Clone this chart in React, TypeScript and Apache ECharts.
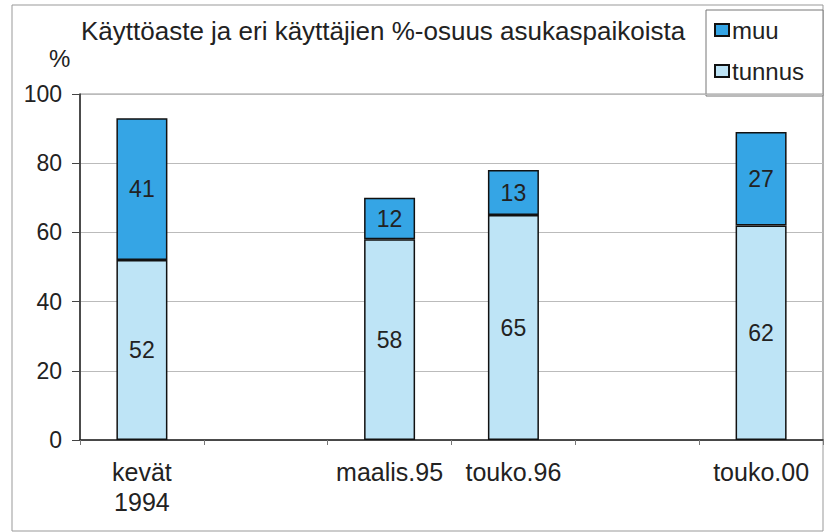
import React, { useEffect, useRef } from "react";
import * as echarts from "echarts";

const categories = ["kevät\n1994", "", "maalis.95", "touko.96", "", "touko.00"];
const tunnusValues = [52, null, 58, 65, null, 62];
const muuValues = [41, null, 12, 13, null, 27];
const yTicks = [0, 20, 40, 60, 80, 100];

const FONT = "'Liberation Sans', Arial, Helvetica, sans-serif";

export default function App() {
  const ref = useRef<HTMLDivElement>(null);
  useEffect(() => {
    if (!ref.current) return;
    const chart = echarts.init(ref.current, undefined, { renderer: "svg" });
    const labelStyle = {
      show: true,
      position: "inside",
      color: "#222",
      fontSize: 23,
      fontFamily: FONT,
      formatter: (p: any) => (p.value == null ? "" : String(p.value)),
    };
    chart.setOption({
      animation: false,
      backgroundColor: "#fff",
      textStyle: { fontFamily: FONT },
      title: {
        text: "Käyttöaste ja eri käyttäjien %-osuus asukaspaikoista",
        left: 76,
        top: 13,
        textStyle: { fontSize: 26, fontWeight: "normal", color: "#222", fontFamily: FONT },
      },
      legend: {
        orient: "vertical",
        left: 714,
        top: 18,
        icon: "rect",
        itemWidth: 14,
        itemHeight: 12,
        itemGap: 17,
        padding: 0,
        data: ["muu", "tunnus"],
        textStyle: { fontSize: 24, color: "#222", fontFamily: FONT, padding: [0, 0, 0, -2] },
      },
      grid: {
        left: 80,
        right: 2,
        top: 94,
        bottom: 92,
        show: true,
        borderColor: "#999",
        borderWidth: 1,
        backgroundColor: "transparent",
      },
      xAxis: {
        type: "category",
        data: categories,
        axisLine: { lineStyle: { color: "#222", width: 1.5 } },
        axisTick: { show: true, length: 5, interval: 0, lineStyle: { color: "#777" } },
        axisLabel: {
          interval: 0,
          fontSize: 25,
          color: "#222",
          lineHeight: 30,
          margin: 17,
          fontFamily: FONT,
        },
      },
      yAxis: {
        type: "value",
        min: 0,
        max: 100,
        interval: 20,
        axisLine: { show: true, lineStyle: { color: "#222", width: 1.5 } },
        axisTick: { show: true, length: 8, lineStyle: { color: "#444" } },
        axisLabel: {
          fontSize: 23,
          color: "#222",
          margin: 18,
          fontFamily: FONT,
          formatter: (v: number) => (yTicks.includes(v) ? String(v) : ""),
        },
        splitLine: { show: true, lineStyle: { color: "#bbb", width: 1 } },
      },
      series: [
        {
          name: "tunnus",
          type: "bar",
          stack: "total",
          barWidth: 51,
          data: tunnusValues,
          itemStyle: { color: "#bee4f6", borderColor: "#111", borderWidth: 1.5 },
          label: labelStyle,
        },
        {
          name: "muu",
          type: "bar",
          stack: "total",
          barWidth: 51,
          data: muuValues,
          itemStyle: { color: "#35a5e5", borderColor: "#111", borderWidth: 1.5 },
          label: labelStyle,
        },
      ],
      graphic: [
        {
          type: "rect",
          shape: { x: 12, y: 5, width: 811, height: 526 },
          style: { fill: "none", stroke: "#999", lineWidth: 1 },
          silent: true,
          z: -1,
        },
        {
          type: "rect",
          shape: { x: 706, y: 10, width: 117, height: 86 },
          style: { fill: "#fff", stroke: "#777", lineWidth: 1 },
          silent: true,
          z: -1,
        },
        {
          type: "text",
          left: 49,
          top: 46,
          style: { text: "%", fontSize: 24, fill: "#222", fontFamily: FONT },
        },
      ],
    });
    return () => chart.dispose();
  }, []);
  return (
    <div
      ref={ref}
      style={{ position: "fixed", left: 0, top: 0, width: 825, height: 532 }}
    />
  );
}
